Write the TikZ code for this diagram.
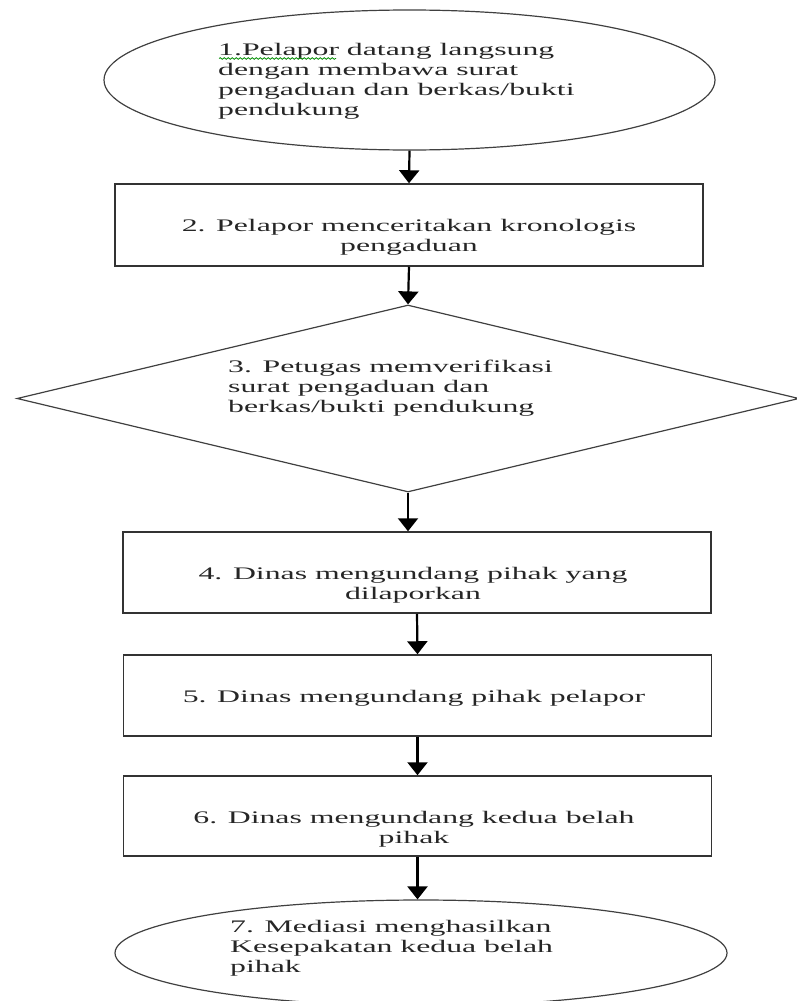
\documentclass[tikz,border=0pt]{standalone}
\usepackage{fontspec}
\setmainfont{Liberation Serif}[FakeStretch=1.8]
\usepackage{tikz}
\usetikzlibrary{shapes.geometric, arrows.meta, decorations.pathmorphing}

\begin{document}
\begin{tikzpicture}[x=1pt, y=-1pt,
		term/.style={draw=black!75, line width=1.2pt, ellipse, inner sep=0pt},
		proc/.style={draw=black!80, line width=1.5pt, rectangle, minimum width=588pt, inner sep=0pt},
		decide/.style={draw=black!75, line width=1.2pt, diamond, inner sep=0pt},
		txt/.style={inner sep=0pt, text=black!85, font=\fontsize{17.65}{20.2}\selectfont},
		flow/.style={-{Triangle[width=20pt,length=13pt]}, line width=2.2pt, black}]
		\useasboundingbox (0,0) rectangle (797,1001);

		\node[term, minimum width=611pt, minimum height=140pt] (lapor) at (409.5,80) {};
		\node[proc, minimum height=82pt] (cerita) at (409,225) {};
		\node[decide, minimum width=782pt, minimum height=187pt] (verif) at (408,398.5) {};
		\node[proc, minimum height=81pt] (undang1) at (417,572.5) {};
		\node[proc, minimum height=81pt] (undang2) at (417.5,695.5) {};
		\node[proc, minimum height=80pt] (undang3) at (417.5,816) {};
		\node[term, minimum width=612pt, minimum height=106pt] (mediasi) at (421,953) {};

		\node[txt, anchor=north west, align=left] (t1) at (218,41) {\strut 1.Pelapor datang langsung\\dengan membawa surat\\pengaduan dan berkas/bukti\\pendukung};
		\draw[green!55!black, line width=0.8pt, decorate, decoration={snake, amplitude=0.8pt, segment length=4pt}] (219,58.5) -- (336,58.5);
		\node[txt, anchor=north, align=center] (t2) at (409,217) {\strut 2. Pelapor menceritakan kronologis\\pengaduan};
		\node[txt, anchor=north west, align=left] (t3) at (228,358) {\strut 3. Petugas memverifikasi\\surat pengaduan dan\\berkas/bukti pendukung};
		\node[txt, anchor=north, align=center] (t4) at (413,565) {\strut 4. Dinas mengundang pihak yang\\dilaporkan};
		\node[txt, anchor=north, align=center] (t5) at (414,688) {\strut 5. Dinas mengundang pihak pelapor};
		\node[txt, anchor=north, align=center] (t6) at (414,809) {\strut 6. Dinas mengundang kedua belah\\pihak};
		\node[txt, anchor=north west, align=left] (t7) at (230,918) {\strut 7. Mediasi menghasilkan\\Kesepakatan kedua belah\\pihak};

		\draw[flow] (lapor.south) -- (cerita.north);
		\draw[flow] (cerita.south) -- (verif.north);
		\draw[flow] (verif.south) -- (verif.south |- undang1.north);
		\draw[flow] (undang1.south) -- (undang2.north);
		\draw[flow] (undang2.south) -- (undang3.north);
		\draw[flow] (undang3.south) -- (undang3.south |- mediasi.north);
	\end{tikzpicture}
\end{document}
